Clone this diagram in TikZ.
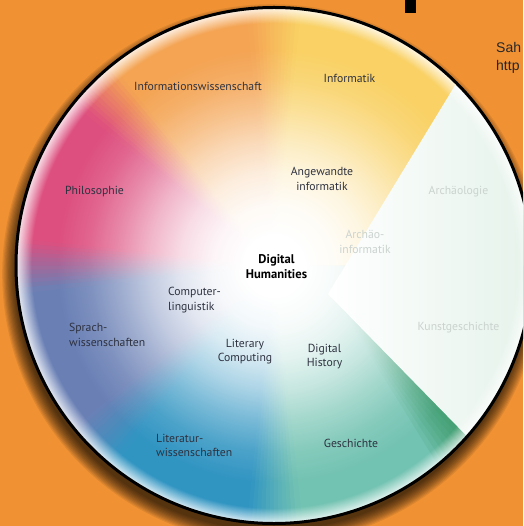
\documentclass[tikz,border=0pt]{standalone}
\usepackage{fontspec}
\setmainfont{PT Sans}
\newfontfamily\arialfont{Liberation Sans}
\usetikzlibrary{fadings}

\definecolor{dhbg}{HTML}{F09233}
\definecolor{dhinf}{HTML}{F9D164}
\definecolor{dhiws}{HTML}{F4A453}
\definecolor{dhphil}{HTML}{DD4F7F}
\definecolor{dhsprach}{HTML}{6A80B5}
\definecolor{dhlit}{HTML}{3195C2}
\definecolor{dhgesch}{HTML}{73C3B2}
\definecolor{dhgreen}{HTML}{3A9864}
\definecolor{dhwedge}{HTML}{E2F1E8}
\definecolor{dhtext}{HTML}{2E3240}
\definecolor{dhpale}{HTML}{CBD3CF}

% white centre and white rim of the wheel
\pgfdeclareradialshading{dhcentershade}{\pgfpointorigin}{color(0bp)=(white); color(3bp)=(white); color(6bp)=(white!94!black); color(9bp)=(white!81!black); color(12bp)=(white!60!black); color(15bp)=(white!35!black); color(18bp)=(white!13!black); color(21bp)=(black); color(50bp)=(black)}
\pgfdeclarefading{dhcenter}{\pgfuseshading{dhcentershade}}
\pgfdeclareradialshading{dhrimshade}{\pgfpointorigin}{color(0bp)=(black); color(23.4bp)=(black); color(25bp)=(white); color(50bp)=(white)}
\pgfdeclarefading{dhrim}{\pgfuseshading{dhrimshade}}
\tikzfading[name=dhstrip, left color=transparent!100, right color=transparent!0]

\begin{document}
\begin{tikzpicture}[
		x=1pt, y=1pt,
		field/.style={font=\fontsize{11.7}{14.5}\selectfont, text=dhtext, inner sep=0pt},
		core/.style={field, font=\bfseries\fontsize{12.6}{15}\selectfont, text=black, align=center},
		pale/.style={field, text=dhpale}
		]
		\useasboundingbox (0,0) rectangle (523,-526);
		\clip (0,0) rectangle (523,-526);
		\fill[dhbg] (0,0) rectangle (523,-526);
		\fill (405,0) rectangle (416,-12.7);
		\node[anchor=north west, inner sep=0pt, align=left, font=\arialfont\fontsize{14}{18}\selectfont, text=black!85] (src) at (496,-42) {Sah\\http};
		
		\coordinate (C) at (274,-265.5);
		\def\R{258}
		% shadow
		\foreach \k in {1,...,12}
			\fill[black, opacity=0.08] (272,-274) circle (\R+13-1.2*\k);
		% sectors
		\foreach \a/\b/\c in {0/90/dhinf, 90/135/dhiws, 135/180/dhphil, 180/225/dhsprach, 225/270/dhlit, 270/360/dhgesch}
			\fill[\c] (C) -- ++(\a:\R) arc[start angle=\a, end angle=\b, radius=\R] -- cycle;
		% soft borders between sectors
		\foreach \b/\ca/\cb in {90/dhinf/dhiws, 135/dhiws/dhphil, 180/dhphil/dhsprach, 225/dhsprach/dhlit, 270/dhlit/dhgesch}
			\foreach \i in {0,...,11}{
				\pgfmathtruncatemacro\p{96-8.33*\i}
				\pgfmathsetmacro\s{\b-6+\i}
				\pgfmathsetmacro\e{\s+1.3}
				\fill[\ca!\p!\cb] (C) -- ++(\s:\R) arc[start angle=\s, end angle=\e, radius=\R] -- cycle;
			}
		% green shade under the wedge
		\foreach \k in {1,...,7}
			\fill[dhgreen, path fading=dhstrip, fill opacity=0.2] (336,-300) -- ([shift={(C)}]-41.5:\R) arc[start angle=-41.5, end angle=-41.5-1.3*\k, radius=\R] -- cycle;
		\fill[white, path fading=dhcenter] (C) circle (\R);
		% the wedge
		\shade[left color=white, right color=dhwedge] (328,-294) -- ([shift={(C)}]45:\R) arc[start angle=45, end angle=-41.5, radius=\R] -- cycle;
		\fill[white, path fading=dhrim, fill opacity=0.9] (C) circle (\R);
		\draw[line width=3] (C) circle (\R);
		
		\node[field] (infwiss) at (198,-86) {Informationswissenschaft};
		\node[field] (inf) at (349.5,-78) {Informatik};
		\node[field] (phil) at (94.5,-192) {Philosophie};
		\node[field, align=center] (angew) at (322,-179) {Angewandte\\informatik};
		\node[pale] (arch) at (458.5,-192) {Archäologie};
		\node[pale, align=center] (archinf) at (365,-242) {Archäo-\\informatik};
		\node[pale] (kunst) at (458.5,-328) {Kunstgeschichte};
		\node[core] (dh) at (276.5,-266.5) {Digital\\Humanities};
		\node[field, align=left, anchor=west] (coling) at (168,-300) {Computer-\\linguistik};
		\node[field, align=left, anchor=west] (sprach) at (69,-335) {Sprach-\\wissenschaften};
		\node[field, align=center] (litcomp) at (245,-351.5) {Literary\\Computing};
		\node[field, align=center] (dhist) at (324.5,-356.5) {Digital\\History};
		\node[field, align=left, anchor=west] (litwiss) at (156,-445.5) {Literatur-\\wissenschaften};
		\node[field] (gesch) at (351,-443) {Geschichte};
	\end{tikzpicture}
\end{document}
